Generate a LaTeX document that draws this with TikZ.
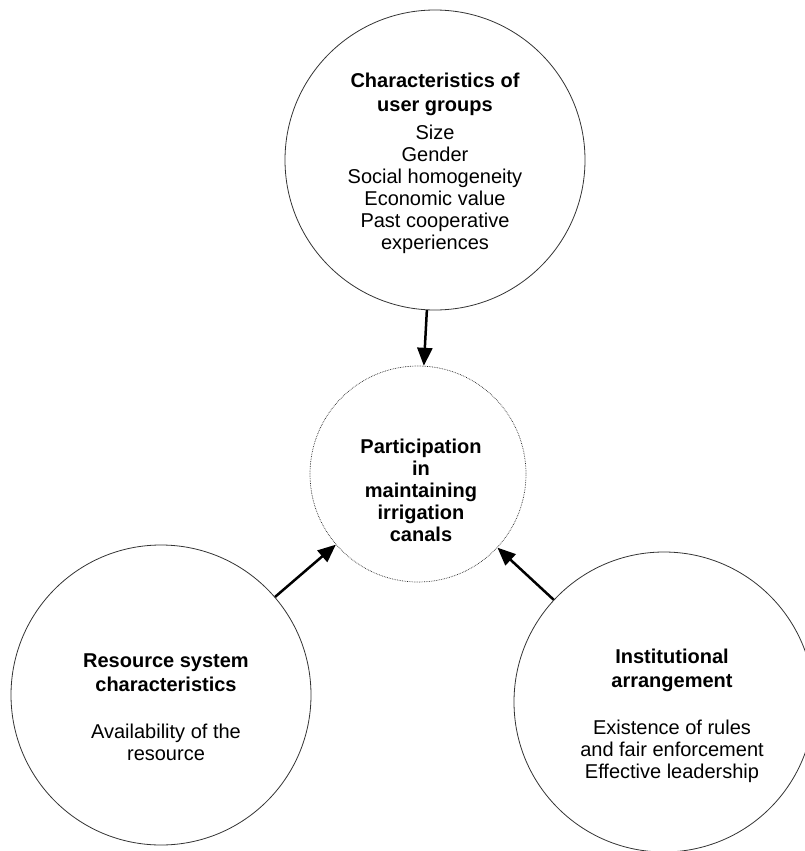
\documentclass[tikz,border=0pt]{standalone}
\usepackage{fontspec}
\setmainfont{Liberation Sans}
\usetikzlibrary{arrows.meta}

\begin{document}
\begin{tikzpicture}[x=1pt, y=-1pt,
    factor/.style={circle, draw=black!80, line width=0.8pt, minimum size=300pt, inner sep=0pt},
    hub/.style={circle, draw=black!85, line width=0.7pt, densely dotted, minimum size=216pt, inner sep=0pt},
    txt/.style={align=center, font=\fontsize{20}{22}\selectfont},
    link/.style={-{Triangle[length=18pt,width=15pt]}, line width=2.5pt}]
    \useasboundingbox (0,0) rectangle (804,851);

    \node[factor] (users) at (435,160) {};
    \node[hub] (part) at (418,474) {};
    \node[factor] (resource) at (161,695) {};
    \node[factor] (inst) at (664,702) {};

    \node[txt] (userstxt) at (435,163) {\textbf{Characteristics of}\\[2pt]
      \textbf{user groups}\\[6pt] Size\\ Gender\\ Social homogeneity\\
      Economic value\\ Past cooperative\\ experiences};
    \node[txt] (parttxt) at (421,490) {\textbf{Participation}\\ \textbf{in}\\
      \textbf{maintaining}\\ \textbf{irrigation}\\ \textbf{canals}};
    \node[txt] (resourcetxt) at (166,707) {\textbf{Resource system}\\[2pt]
      \textbf{characteristics}\\[25pt] Availability of the\\ resource};
    \node[txt] (insttxt) at (672,716) {\textbf{Institutional}\\[2pt]
      \textbf{arrangement}\\[25pt] Existence of rules\\ and fair enforcement\\
      Effective leadership};

    \draw[link] (users) -- (part);
    \draw[link] (resource) -- (part);
    \draw[link] (inst) -- (part);
\end{tikzpicture}
\end{document}
